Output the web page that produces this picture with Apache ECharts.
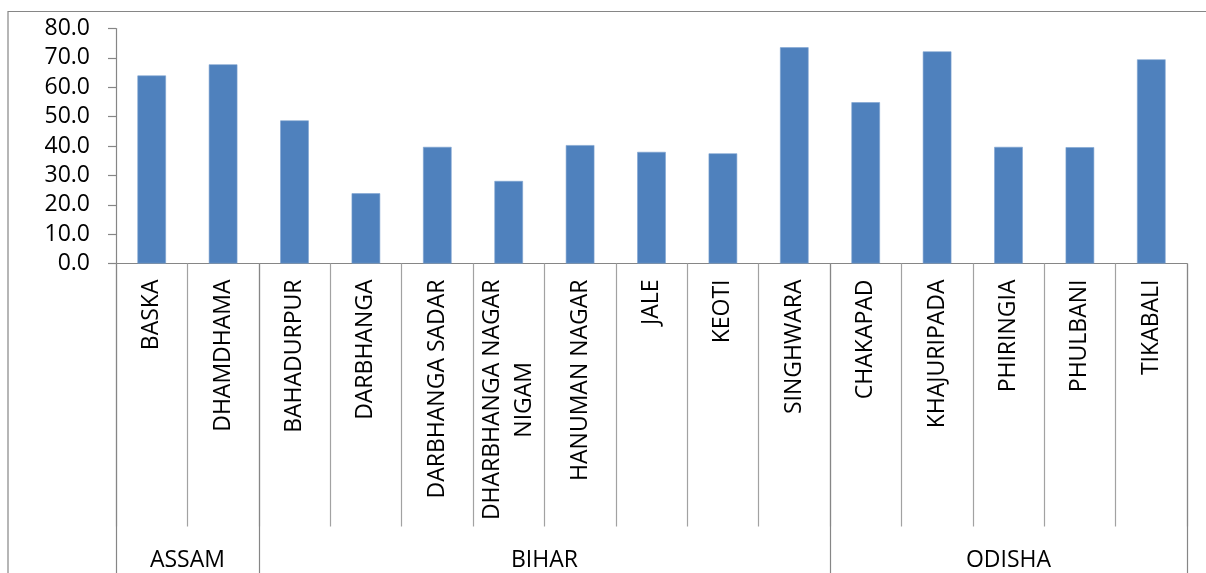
<!DOCTYPE html>
<html>
<head>
<meta charset="utf-8">
<script src="https://cdn.jsdelivr.net/npm/echarts@6/dist/echarts.min.js"></script>
<style>
  html, body { margin: 0; padding: 0; background: #fff; }
  #main { width: 1206px; height: 573px; }
</style>
</head>
<body>
<div id="main"></div>
<script>
const categories = ['BASKA', 'DHAMDHAMA', 'BAHADURPUR', 'DARBHANGA', 'DARBHANGA SADAR',
  'DHARBHANGA NAGAR NIGAM', 'HANUMAN NAGAR', 'JALE', 'KEOTI', 'SINGHWARA',
  'CHAKAPAD', 'KHAJURIPADA', 'PHIRINGIA', 'PHULBANI', 'TIKABALI']
const values = [64.0, 67.8, 48.7, 23.9, 39.7, 28.1, 40.3, 38.0, 37.5, 73.6, 54.9, 72.2, 39.7, 39.6, 69.5]
const groups = ['ASSAM', 'BIHAR', 'ODISHA']
const groupSizes = [2, 8, 5]
const yTicks = [0, 10, 20, 30, 40, 50, 60, 70, 80]

// second level axis: half-category steps, so group centres and boundaries fall on points
let groupAxis = new Array(categories.length * 2 + 1).fill('')
let boundaries = [0]
let start = 0
groups.forEach((g, i) => {
  groupAxis[start * 2 + groupSizes[i]] = g
  start += groupSizes[i]
  boundaries.push(start * 2)
})

const font = 'Open Sans'
const grey = '#868686'

let myChart = echarts.init(document.getElementById('main'))
let option = {
  animation: false,
  textStyle: { fontFamily: font },
  graphic: [{
    type: 'rect',
    shape: { x: 8, y: 11.5, width: 1400, height: 800 },
    style: { fill: 'none', stroke: grey, lineWidth: 1.2 },
    silent: true
  }],
  grid: { left: 116, right: 19, top: 28.5, bottom: 309.5 },
  xAxis: [
    {
      type: 'category',
      data: categories,
      position: 'bottom',
      axisLine: { show: true, lineStyle: { color: grey, width: 1.2 } },
      axisTick: { show: true, length: 263, lineStyle: { color: '#a2a2a2', width: 1.2 } },
      axisLabel: {
        interval: 0,
        rotate: 90,
        margin: 16,
        color: '#000',
        formatter: (v) => {
          let t = v
          if (v.length > 18) {
            let k = v.lastIndexOf(' ')
            t = v.slice(0, k) + '}\n{c|' + v.slice(k + 1)
          }
          return '{c|' + t + '}'
        },
        rich: {
          c: { fontFamily: font, fontSize: 23, lineHeight: 32, align: 'center', color: '#000' }
        }
      }
    },
    {
      type: 'category',
      data: groupAxis,
      position: 'bottom',
      boundaryGap: false,
      axisLine: { show: false },
      axisTick: {
        show: true,
        length: 330,
        interval: (idx) => boundaries.indexOf(idx) >= 0,
        lineStyle: { color: grey, width: 1.2 }
      },
      axisLabel: {
        interval: (idx, v) => v !== '',
        margin: 285,
        fontSize: 23,
        fontFamily: font,
        color: '#000'
      }
    }
  ],
  yAxis: {
    type: 'value',
    min: yTicks[0],
    max: yTicks[yTicks.length - 1],
    interval: 10,
    axisLine: { show: true, lineStyle: { color: grey, width: 1.2 } },
    axisTick: { show: true, length: 8, lineStyle: { color: grey, width: 1.2 } },
    splitLine: { show: false },
    axisLabel: {
      margin: 26,
      fontSize: 23,
      fontFamily: font,
      color: '#000',
      formatter: (v) => v.toFixed(1)
    }
  },
  series: [
    {
      type: 'bar',
      data: values,
      barWidth: '40%',
      itemStyle: { color: '#4F81BD', borderColor: '#7DA2D0', borderWidth: 0.6 }
    }
  ]
}
myChart.setOption(option)
</script>
</body>
</html>
